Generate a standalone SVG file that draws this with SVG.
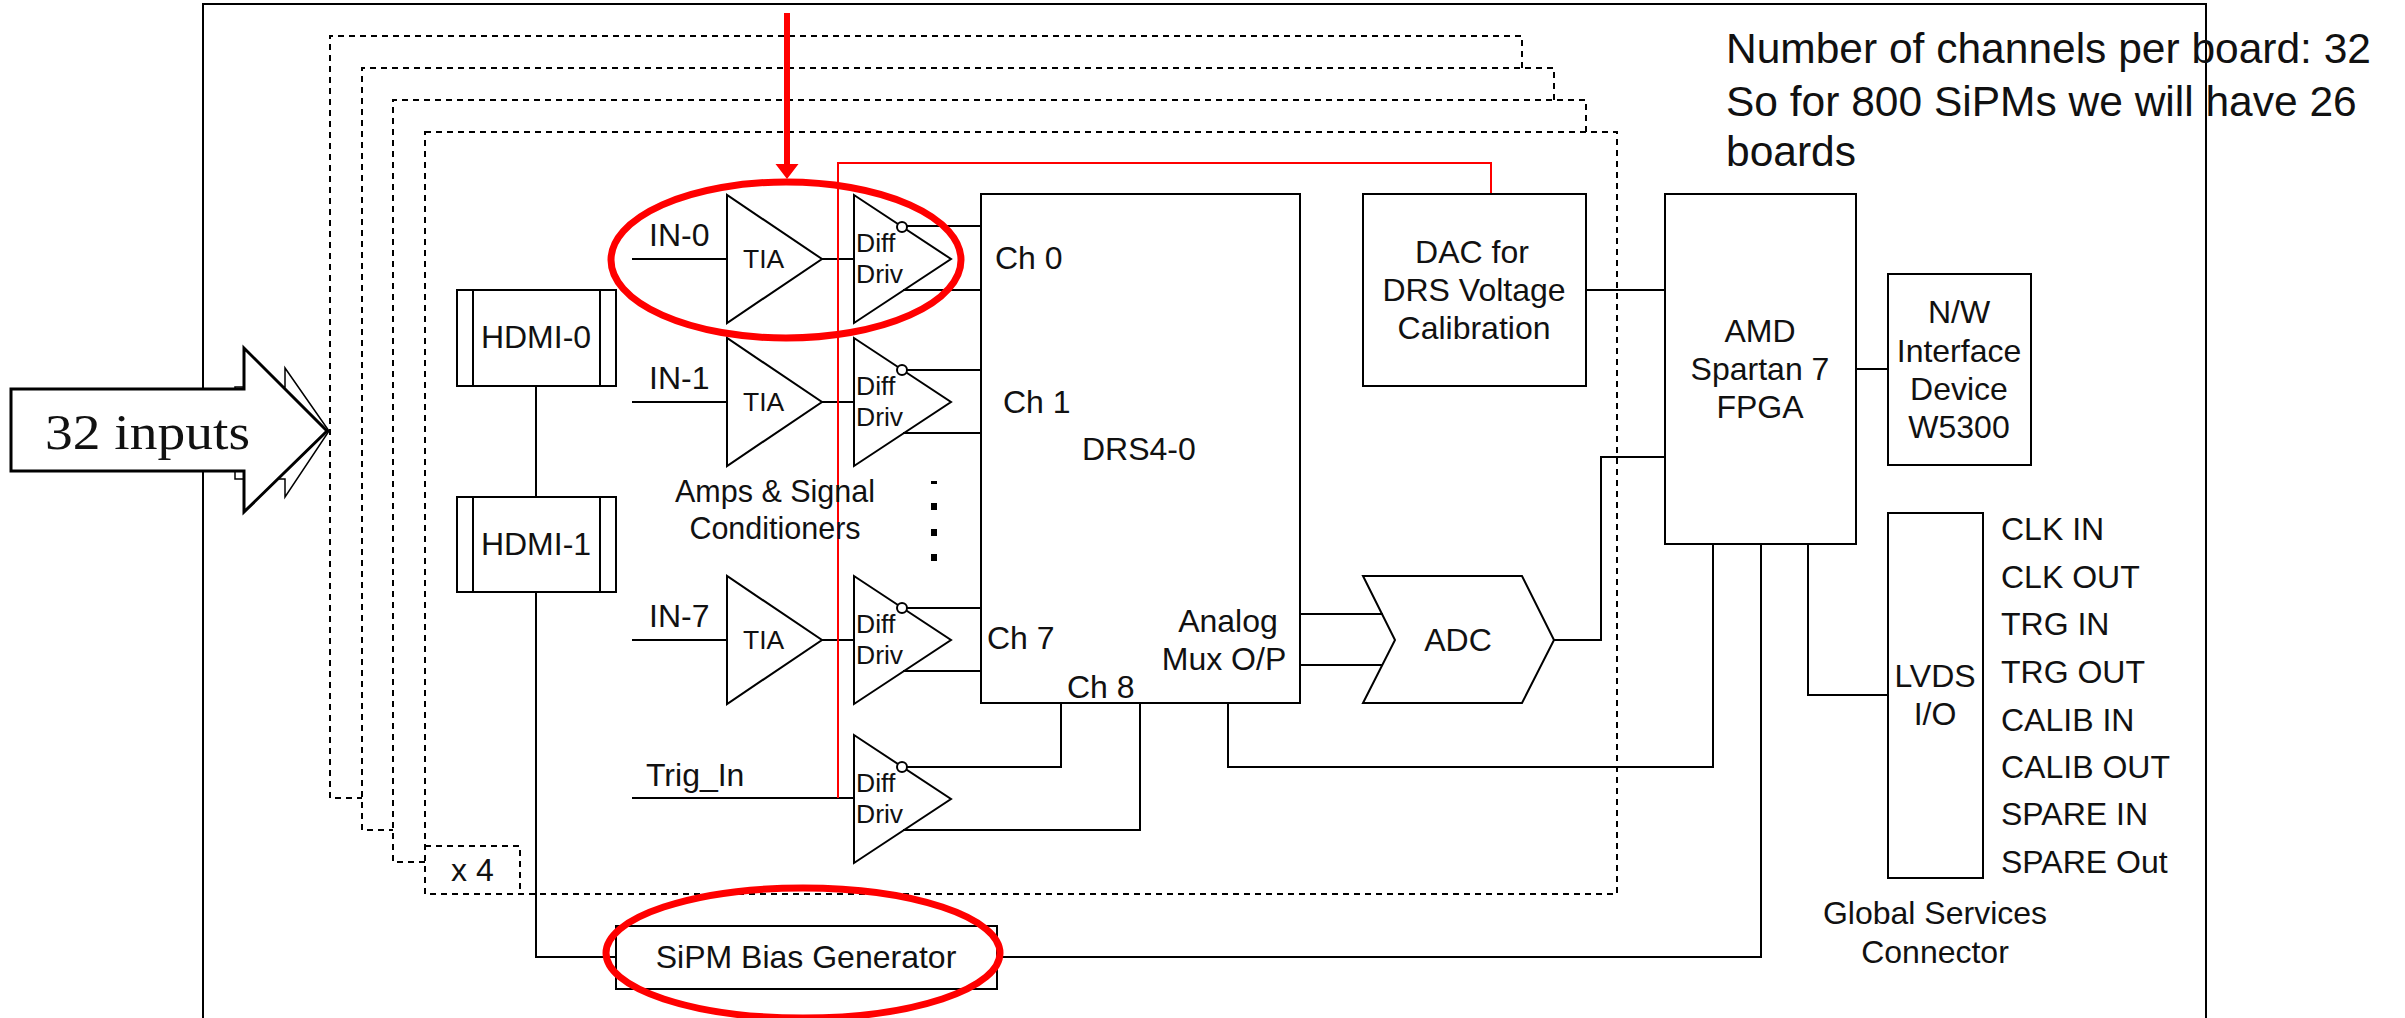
<svg xmlns="http://www.w3.org/2000/svg" width="2405" height="1018" viewBox="0 0 2405 1018">
<style>
text{font-family:"Liberation Sans",Arial,sans-serif;font-size:32px;fill:#111}
.m{text-anchor:middle}
.s{font-size:26.500px}
.a{font-size:30.500px}
.b{font-size:42.500px}
.ln{fill:none;stroke:#000;stroke-width:2}
.open{fill:none;stroke:#000;stroke-width:2}
.dash{fill:none;stroke:#000;stroke-width:2;stroke-dasharray:6 5}
.red{fill:none;stroke:#f00;stroke-width:2}
.oval{fill:none;stroke:#f00;stroke-width:7}
</style>
<defs>
<g id="amp"><path class="open" d="M0 0V128L95 64Z"/></g>
<g id="diff"><path class="open" d="M0 0V128L97 64Z"/><circle cx="48" cy="32" r="5" fill="#fff" stroke="#000" stroke-width="2"/></g>
</defs>
<rect width="2405" height="1018" fill="#fff"/>
<path id="frame" class="ln" d="M203 1018V4H2206V1018"/>
<g id="stack">
<path class="dash" d="M1522 68V36H330V798H362"/>
<path class="dash" d="M1554 100V68H362V830H393"/>
<path class="dash" d="M1586 132V100H393V862H425"/>
<rect class="dash" x="425" y="132" width="1192" height="762"/>
</g>
<g id="connectors">
<path class="ln" d="M632 259H727M822 259H854M907 226H981M903 290H981"/>
<path class="ln" d="M632 402H727M822 402H854M907 370H981M903 433H981"/>
<path class="ln" d="M632 640H727M822 640H854M907 608H981M903 671H981"/>
<path class="ln" d="M632 798H854M907 767H1061V703M903 830H1140V703"/>
<path class="ln" d="M536 386V497M536 592V957H616M997 957H1761V544"/>
<path class="ln" d="M1300 614H1383M1300 665H1383M1554 640H1601V457H1665"/>
<path class="ln" d="M1228 703V767H1713V544M1808 544V695H1888M1586 290H1665M1856 369H1888"/>
<path class="red" d="M838 798V163H1491V194"/>
</g>
<g id="in0"><use href="#amp" x="727" y="195"/><text x="649" y="246">IN-0</text><text class="s" x="743" y="268">TIA</text></g>
<g id="diff0"><use href="#diff" x="854" y="195"/><text class="s" x="856" y="252">Diff</text><text class="s" x="856" y="283">Driv</text></g>
<g id="in1"><use href="#amp" x="727" y="338"/><text x="649" y="389">IN-1</text><text class="s" x="743" y="411">TIA</text></g>
<g id="diff1"><use href="#diff" x="854" y="338"/><text class="s" x="856" y="395">Diff</text><text class="s" x="856" y="426">Driv</text></g>
<g id="in7"><use href="#amp" x="727" y="576"/><text x="649" y="627">IN-7</text><text class="s" x="743" y="649">TIA</text></g>
<g id="diff7"><use href="#diff" x="854" y="576"/><text class="s" x="856" y="633">Diff</text><text class="s" x="856" y="664">Driv</text></g>
<g id="trig"><text x="646" y="786">Trig_In</text><use href="#diff" x="854" y="735"/><text class="s" x="856" y="792">Diff</text><text class="s" x="856" y="823">Driv</text></g>
<g id="amps-label"><text class="m a" x="775" y="502">Amps &amp; Signal</text><text class="m a" x="775" y="539">Conditioners</text>
<path d="M931 481h6v3h-6zM931 503h6v7h-6zM931 529h6v7h-6zM931 554h6v7h-6z" fill="#000"/></g>
<g id="hdmi0"><rect class="open" x="457" y="290" width="159" height="96"/><path class="ln" d="M473 290V386M600 290V386"/><text class="m" x="536" y="348">HDMI-0</text></g>
<g id="hdmi1"><rect class="open" x="457" y="497" width="159" height="95"/><path class="ln" d="M473 497V592M600 497V592"/><text class="m" x="536" y="555">HDMI-1</text></g>
<g id="drs"><rect class="open" x="981" y="194" width="319" height="509"/>
<text x="995" y="269">Ch 0</text><text x="1003" y="413">Ch 1</text><text x="987" y="649">Ch 7</text><text x="1067" y="698">Ch 8</text><text x="1082" y="460">DRS4-0</text><text class="m" x="1228" y="632">Analog</text><text class="m" x="1224" y="670">Mux O/P</text></g>
<g id="dac"><rect class="open" x="1363" y="194" width="223" height="192"/><text class="m" x="1472" y="263">DAC for</text><text class="m" x="1474" y="301">DRS Voltage</text><text class="m" x="1474" y="339">Calibration</text></g>
<g id="adc"><path class="open" d="M1363 576H1522L1554 640L1522 703H1363L1395 640Z"/><text class="m" x="1458" y="651">ADC</text></g>
<g id="fpga"><rect class="open" x="1665" y="194" width="191" height="350"/><text class="m" x="1760" y="342">AMD</text><text class="m" x="1760" y="380">Spartan 7</text><text class="m" x="1760" y="418">FPGA</text></g>
<g id="nw"><rect class="open" x="1888" y="274" width="143" height="191"/><text class="m" x="1959" y="323">N/W</text><text class="m" x="1959" y="362">Interface</text><text class="m" x="1959" y="400">Device</text><text class="m" x="1959" y="438">W5300</text></g>
<g id="lvds"><rect class="open" x="1888" y="513" width="95" height="365"/><text class="m" x="1935" y="687">LVDS</text><text class="m" x="1935" y="725">I/O</text>
<text x="2001" y="540">CLK IN</text><text x="2001" y="588">CLK OUT</text><text x="2001" y="635">TRG IN</text><text x="2001" y="683">TRG OUT</text><text x="2001" y="731">CALIB IN</text><text x="2001" y="778">CALIB OUT</text><text x="2001" y="825">SPARE IN</text><text x="2001" y="873">SPARE Out</text>
<text class="m" x="1935" y="924">Global Services</text><text class="m" x="1935" y="963">Connector</text></g>
<g id="x4"><path class="dash" d="M425 846H520V894"/><text x="451" y="881">x 4</text></g>
<g id="sipm"><rect class="open" x="616" y="926" width="381" height="63"/><text class="m" x="806" y="968">SiPM Bias Generator</text></g>
<g id="note"><text class="b" x="1726" y="63">Number of channels per board: 32</text><text class="b" x="1726" y="116">So for 800 SiPMs we will have 26</text><text class="b" x="1726" y="166">boards</text></g>
<g id="highlights"><ellipse class="oval" cx="786" cy="260" rx="175" ry="78"/><ellipse class="oval" cx="803" cy="953" rx="197" ry="65"/>
<path d="M784 13h6v151h8.500L787 179L775.500 164H784Z" fill="#f00"/></g>
<g id="inputs">
<path d="M235 471V479H285V497L329 431L285 368V387H235Z" fill="#fff" stroke="#000" stroke-width="1.500"/>
<path d="M11 389H244V348L327 431L244 512V471H11Z" fill="#fff" stroke="#000" stroke-width="3"/>
<text x="45" y="449" style="font-family:'Liberation Serif',serif;font-size:50px" textLength="205" lengthAdjust="spacingAndGlyphs">32 inputs</text></g>
</svg>
